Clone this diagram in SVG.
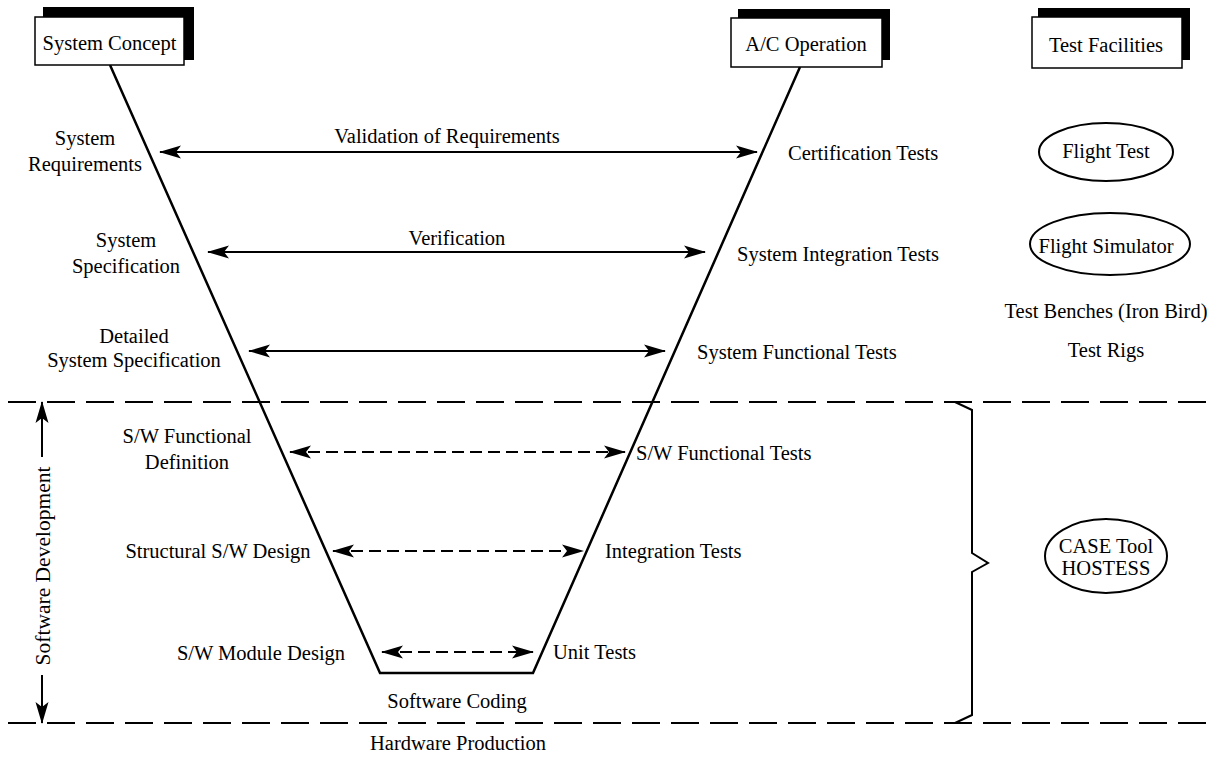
<svg xmlns="http://www.w3.org/2000/svg" width="1209" height="765" viewBox="0 0 1209 765">
<style>
text{font-family:"Liberation Serif","Times New Roman",serif;font-size:20.5px;fill:#000}
.m{text-anchor:middle}
.v{fill:none;stroke:#000;stroke-width:2.5}
.a{fill:none;stroke:#000;stroke-width:2}
.d{stroke-dasharray:12 6}
.h{fill:none;stroke:#000;stroke-width:2;stroke-dasharray:28 11}
.box{fill:#fff;stroke:#000;stroke-width:1.5}
.sh{fill:#000}
.el{fill:#fff;stroke:#000;stroke-width:2}
</style>
<defs>
<marker id="ah" markerUnits="userSpaceOnUse" markerWidth="24" markerHeight="14" refX="21" refY="7" orient="auto-start-reverse" viewBox="0 0 24 14">
<path d="M0,0.5 L22,7 L0,13.5 L5,7 z" fill="#000"/>
</marker>
</defs>
<rect width="1209" height="765" fill="#fff"/>

<g id="connectors">
<path class="v" d="M110,65 L380,673 L533,673 L800,67"/>
<line class="a" x1="160" y1="152" x2="757" y2="152" marker-start="url(#ah)" marker-end="url(#ah)"/>
<line class="a" x1="208" y1="252" x2="705" y2="252" marker-start="url(#ah)" marker-end="url(#ah)"/>
<line class="a" x1="249" y1="351" x2="665" y2="351" marker-start="url(#ah)" marker-end="url(#ah)"/>
<line class="a d" x1="290" y1="452" x2="625" y2="452" marker-start="url(#ah)" marker-end="url(#ah)"/>
<line class="a d" x1="333" y1="551" x2="583" y2="551" marker-start="url(#ah)" marker-end="url(#ah)"/>
<line class="a d" x1="382" y1="652" x2="533" y2="652" marker-start="url(#ah)" marker-end="url(#ah)"/>
<line class="h" x1="8" y1="402" x2="1209" y2="402"/>
<line class="h" x1="8" y1="723" x2="1209" y2="723"/>
<line class="a" x1="42" y1="402" x2="42" y2="457" marker-start="url(#ah)"/>
<line class="a" x1="42" y1="675" x2="42" y2="723" marker-end="url(#ah)"/>
<path class="a" stroke-width="2.5" d="M955,402 L972,410 L972,553 L988,563 L972,572 L972,715 L955,723"/>
</g>

<g id="system-concept">
<rect class="sh" x="43" y="7" width="151" height="53"/>
<rect class="box" x="35" y="17" width="149" height="48"/>
<text class="m" x="109.5" y="50">System Concept</text>
</g>
<g id="ac-operation">
<rect class="sh" x="738" y="9" width="152" height="51"/>
<rect class="box" x="731" y="18" width="151" height="49"/>
<text class="m" x="806" y="51">A/C Operation</text>
</g>
<g id="test-facilities">
<rect class="sh" x="1038" y="8" width="152" height="52"/>
<rect class="box" x="1032" y="17" width="150" height="51"/>
<text class="m" x="1106" y="52">Test Facilities</text>
</g>

<g id="flight-test">
<ellipse class="el" cx="1106" cy="152" rx="67" ry="29"/>
<text class="m" x="1106" y="158">Flight Test</text>
</g>
<g id="flight-simulator">
<ellipse class="el" cx="1110" cy="244" rx="80" ry="31"/>
<text class="m" x="1106" y="253">Flight Simulator</text>
</g>
<g id="case-tool">
<ellipse class="el" cx="1106" cy="556" rx="61" ry="37"/>
<text class="m" x="1106" y="553">CASE Tool</text>
<text class="m" x="1106" y="575">HOSTESS</text>
</g>

<g id="labels">
<text class="m" x="85" y="145">System</text>
<text class="m" x="85" y="171">Requirements</text>
<text class="m" x="126" y="247">System</text>
<text class="m" x="126" y="273">Specification</text>
<text class="m" x="134" y="343">Detailed</text>
<text class="m" x="134" y="367">System Specification</text>
<text class="m" x="187" y="443">S/W Functional</text>
<text class="m" x="187" y="469">Definition</text>
<text class="m" x="218" y="558">Structural S/W Design</text>
<text class="m" x="261" y="660">S/W Module Design</text>
<text class="m" x="457" y="708">Software Coding</text>
<text class="m" x="458" y="750">Hardware Production</text>
<text class="m" x="447" y="143">Validation of Requirements</text>
<text class="m" x="457" y="245">Verification</text>
<text x="788" y="160">Certification Tests</text>
<text x="737" y="261">System Integration Tests</text>
<text x="697" y="359">System Functional Tests</text>
<text x="636" y="460">S/W Functional Tests</text>
<text x="605" y="558">Integration Tests</text>
<text x="553" y="659">Unit Tests</text>
<text class="m" x="1106" y="318">Test Benches (Iron Bird)</text>
<text class="m" x="1106" y="357">Test Rigs</text>
<text class="m" style="font-size:21.5px" transform="translate(50,566) rotate(-90)">Software Development</text>
</g>
</svg>
